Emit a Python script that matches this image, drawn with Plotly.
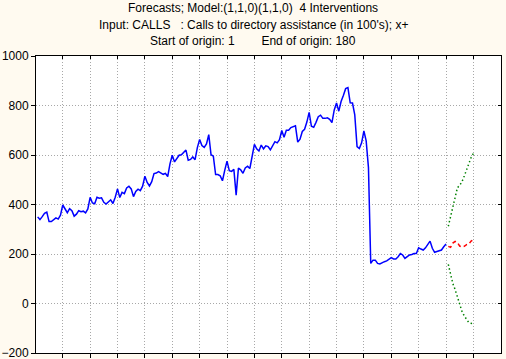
import plotly.graph_objects as go

# Observed series (months 1..180)
calls = [350, 339, 351, 364, 369, 331, 331, 340, 346, 341, 357, 398,
         381, 367, 383, 375, 353, 361, 375, 371, 373, 366, 382, 429,
         406, 403, 429, 425, 427, 409, 402, 409, 419, 404, 429, 463,
         428, 449, 444, 467, 474, 463, 432, 453, 462, 456, 474, 514,
         489, 475, 492, 525, 527, 533, 527, 522, 526, 513, 564, 599,
         572, 587, 599, 601, 611, 620, 579, 582, 592, 581, 630, 663,
         638, 631, 645, 682, 601, 595, 521, 521, 516, 496, 538, 575,
         537, 534, 542, 438, 547, 540, 526, 548, 555, 545, 594, 643,
         625, 616, 640, 625, 637, 634, 621, 641, 654, 649, 662, 699,
         672, 700, 700, 711, 715, 718, 652, 664, 695, 704, 733, 772,
         716, 712, 732, 755, 761, 748, 748, 750, 744, 731, 782, 810,
         777, 816, 840, 868, 872, 811, 810, 762, 634, 626, 649, 697,
         657, 549, 162, 175, 175, 162, 160, 166, 169, 172, 180, 185,
         180, 180, 189, 202, 196, 182, 189, 196, 198, 202, 202, 225,
         220, 216, 225, 239, 252, 223, 207, 210, 212, 216, 229, 240]
obs_x = list(range(1, len(calls) + 1))

# Forecasts (months 181..192)
fc_x = list(range(181, 193))
forecast = [231, 227, 244, 251, 246, 232, 229, 231, 238, 240, 252, 258]
upper = [312, 352, 396, 440, 468, 477, 492, 515, 542, 566, 590, 606]
lower = [158, 112, 80, 56, 25, -10, -32, -50, -64, -77, -80, -83]

x_ticks = list(range(12, 193, 12))
y_ticks = [-200, 0, 200, 400, 600, 800, 1000]

FONT = "Liberation Sans, Arial, sans-serif"

fig = go.Figure()
fig.add_trace(go.Scatter(x=obs_x, y=calls, mode="lines",
                         line=dict(color="#0000FF", width=1.5), showlegend=False))
fig.add_trace(go.Scatter(x=fc_x, y=forecast, mode="lines",
                         line=dict(color="#FF0000", width=1.5, dash="4px,3px"), showlegend=False))
fig.add_trace(go.Scatter(x=fc_x, y=upper, mode="lines",
                         line=dict(color="#008000", width=1.5, dash="1.5px,2.5px"), showlegend=False))
fig.add_trace(go.Scatter(x=fc_x, y=lower, mode="lines",
                         line=dict(color="#008000", width=1.5, dash="1.5px,2.5px"), showlegend=False))
# invisible trace on mirrored axes (for inward ticks on top/right)
fig.add_trace(go.Scatter(x=[fc_x[0]], y=[forecast[0]], xaxis="x2", yaxis="y2",
                         mode="markers", marker=dict(opacity=0), showlegend=False,
                         hoverinfo="skip"))

xr = [0.27, 204.1]
yr = [-200, 1000]

TOP, BOT = 56, 6
PLOT_H = 359 - TOP - BOT

fig.update_layout(
    width=506, height=359,
    margin=dict(l=36, r=5, t=TOP, b=BOT),
    paper_bgcolor="#FFFAF0",
    plot_bgcolor="#FFFFFF",
    font=dict(family=FONT, size=12, color="#000000"),
    xaxis=dict(range=xr, tickmode="array", tickvals=x_ticks, showticklabels=False,
               ticks="outside", ticklen=4, tickcolor="#000", tickwidth=1,
               showgrid=True, gridcolor="#A8A8A8", gridwidth=1, griddash="1px,2px",
               showline=True, linecolor="#000", linewidth=1, zeroline=False,
               automargin=False),
    yaxis=dict(range=yr, tickmode="array", tickvals=y_ticks,
               ticks="outside", ticklen=4, tickcolor="#000", tickwidth=1,
               tickfont=dict(family=FONT, size=12), ticklabeloverflow="allow",
               showgrid=True, gridcolor="#A8A8A8", gridwidth=1, griddash="1px,2px",
               showline=True, linecolor="#000", linewidth=1, zeroline=False,
               automargin=False),
    xaxis2=dict(range=xr, overlaying="x", side="top", anchor="y", tickmode="array",
                tickvals=x_ticks, showticklabels=False, ticks="inside", ticklen=3,
                tickcolor="#000", showgrid=False, showline=True, linecolor="#000",
                linewidth=1, zeroline=False, automargin=False),
    yaxis2=dict(range=yr, overlaying="y", side="right", anchor="x", tickmode="array",
                tickvals=y_ticks, showticklabels=False, ticks="inside", ticklen=3,
                tickcolor="#000", showgrid=False, showline=True, linecolor="#000",
                linewidth=1, zeroline=False, automargin=False),
)

titles = [
    ("Forecasts; Model:(1,1,0)(1,1,0)  4 Interventions", 8),
    ("Input: CALLS&nbsp;&nbsp;&nbsp;: Calls to directory assistance (in 100's); x+", 25),
    ("Start of origin: 1" + "&nbsp;" * 8 + "End of origin: 180", 41),
]
for txt, ypix in titles:
    fig.add_annotation(text=txt, xref="paper", yref="paper",
                       x=(253 - 36) / 465, y=(359 - BOT - ypix) / PLOT_H,
                       xanchor="center", yanchor="middle", showarrow=False,
                       font=dict(family=FONT, size=12, color="#000"))

fig.write_html("out.html", config={"displayModeBar": False},
               post_script="document.body.style.margin='0';document.body.style.overflow='hidden';")
